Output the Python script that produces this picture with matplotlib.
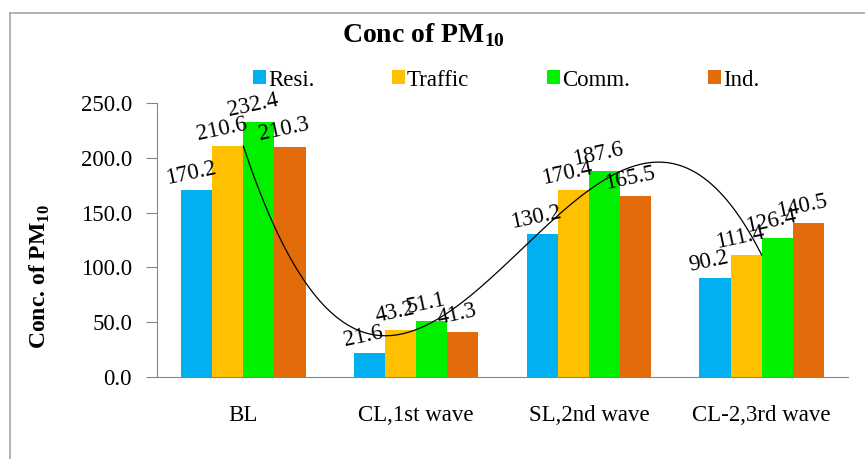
import numpy as np
import matplotlib
matplotlib.use("Agg")
import matplotlib.pyplot as plt
from matplotlib.lines import Line2D

categories = ["BL", "CL,1st wave", "SL,2nd wave", "CL-2,3rd wave"]
series_names = ["Resi.", "Traffic", "Comm.", "Ind."]
resi = [170.2, 21.6, 130.2, 90.2]
traffic = [210.6, 43.2, 170.4, 111.4]
comm = [232.4, 51.1, 187.6, 126.4]
ind = [210.3, 41.3, 165.5, 140.5]
y_ticks = [0, 50, 100, 150, 200, 250]

colors = ["#00B0F0", "#FFC000", "#00F000", "#E36C0A"]
series = [resi, traffic, comm, ind]

plt.rcParams["font.family"] = ["Liberation Serif", "DejaVu Serif"]
plt.rcParams["mathtext.fontset"] = "custom"
plt.rcParams["mathtext.rm"] = "Liberation Serif"
plt.rcParams["mathtext.bf"] = "Liberation Serif:bold"

W, H = 865, 459
fig = plt.figure(figsize=(W / 100, H / 100), dpi=100)
fig.patch.set_facecolor("white")

ax = fig.add_axes([157 / W, 1 - 377 / H, (848 - 157) / W, (377 - 103) / H])
x = np.arange(len(categories))
bw = 0.18
for i, (name, vals, c) in enumerate(zip(series_names, series, colors)):
    xs = x + (i - 1.5) * bw
    ax.bar(xs, vals, width=bw, color=c, label=name, zorder=2)
    for xi, v in zip(xs, vals):
        ax.annotate(f"{v:.1f}", xy=(xi, v), xytext=(-6, 17), textcoords="offset pixels",
                    ha="center", va="center", rotation=12, fontsize=16.5, zorder=4)

# cubic polynomial trendline of the Traffic series
coef = np.polyfit(x, traffic, 3)
xx = np.linspace(0, 3, 300)
ax.plot(xx, np.polyval(coef, xx), color="black", lw=0.9, zorder=3)

ax.set_xlim(-0.5, 3.5)
ax.set_ylim(0, 250)
ax.set_yticks(y_ticks)
ax.set_yticklabels([f"{t:.1f}" for t in y_ticks], fontsize=16.5)
ax.set_xticks(x)
ax.set_xticklabels(categories, fontsize=16.5)
ax.tick_params(axis="x", length=0, pad=20)
ax.tick_params(axis="y", length=8, direction="out", color="#868686", pad=10)
for s in ["top", "right"]:
    ax.spines[s].set_visible(False)
for s in ["left", "bottom"]:
    ax.spines[s].set_color("#868686")
ax.set_ylabel(r"Conc. of PM$_{\mathbf{10}}$", fontsize=17, fontweight="bold")
ax.yaxis.set_label_coords(-0.152, 0.365)

fig.text(423 / W, 1 - 35 / H, r"Conc of PM$_{\mathbf{10}}$", ha="center", va="center",
         fontsize=20, fontweight="bold")

fig.legend(loc="center", bbox_to_anchor=(506 / W, 1 - 80 / H), ncol=4, frameon=False,
           fontsize=16.5, handlelength=0.55, handleheight=0.55, handletextpad=0.1,
           columnspacing=3.4)

fig.add_artist(Line2D([10 / W, 10 / W], [0, 1 - 13 / H], transform=fig.transFigure,
                      color="#a6a6a6", lw=1.2))
fig.add_artist(Line2D([10 / W, 1], [1 - 13 / H, 1 - 13 / H], transform=fig.transFigure,
                      color="#a6a6a6", lw=1.2))

fig.savefig("out.png", dpi=100)
